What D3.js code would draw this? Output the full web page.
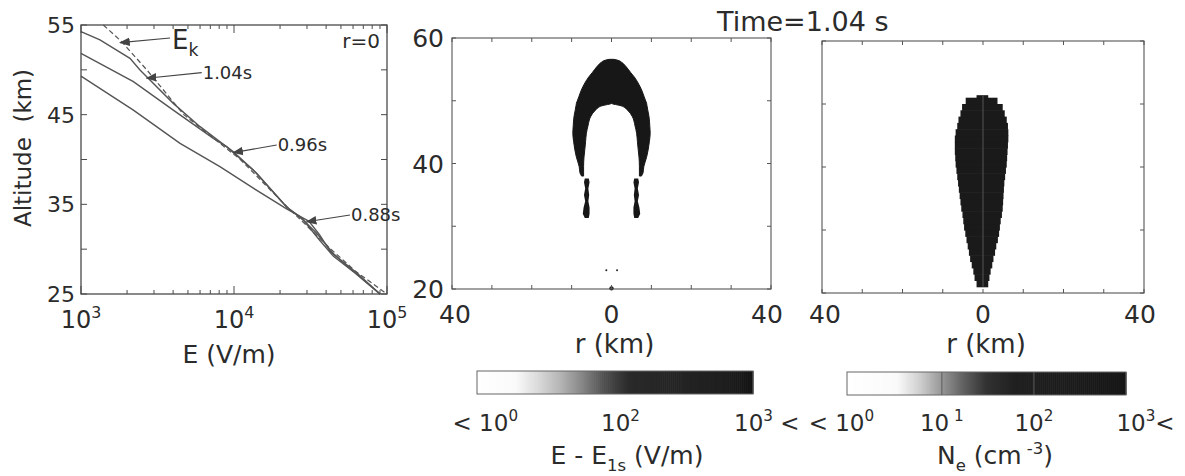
<!DOCTYPE html>
<html><head><meta charset="utf-8">
<script src="https://cdn.jsdelivr.net/npm/d3@7"></script>
<style>
body{margin:0;background:#fff}
svg{display:block}
text{font-family:"DejaVu Sans",sans-serif;fill:#2b2b2b;white-space:pre}
</style>
</head><body>
<svg id="c" width="1185" height="476"></svg>
<script>
// ---------------- data ----------------
const ekAlt = [55, 53.14, 50, 45, 40, 35, 30, 27.5, 25];
const ekE   = [1400, 1845, 2690, 4700, 11000, 21400, 43000, 62700, 100000];

const t104Alt = [54.26, 53.33, 51.28, 49.98, 49.05, 46.26, 43.66, 41.43, 38.83, 34.7, 33.6, 31.77, 29.5, 27.5, 25];
const t104E   = [1000, 1330, 2090, 2430, 2750, 4010, 6000, 8950, 13370, 22080, 27000, 34700, 44700, 60300, 90000];

const t096Alt = [51.84, 48.68, 45.5, 42.36, 41.43, 40.87, 38.46, 34.7, 33.25, 31.0, 29.2, 27.5, 25];
const t096E   = [1000, 2200, 4010, 7330, 8950, 9910, 14060, 22080, 28380, 36300, 44700, 60300, 90000];

const t088Alt = [49.3, 45.5, 41.8, 39.2, 36.8, 34.5, 33.1, 31.6, 29.7, 27.4, 25.0];
const t088E   = [1000, 2200, 4440, 8090, 13370, 22080, 30900, 36300, 42700, 63100, 90000];

const annLabel   = ["E", "1.04s", "0.96s", "0.88s"];
const annSub     = ["k", "", "", ""];
const annTipE    = [1800, 2685, 9890, 29850];
const annTipAlt  = [53.03, 49.06, 40.76, 33.06];
const annTailE   = [3820, 6150, 19010, 57300];
const annTailAlt = [53.55, 49.68, 41.62, 33.81];

const leftYTicks = [25, 30, 35, 40, 45, 50, 55];
const leftYLabels = [25, 35, 45, 55];
const leftXDecades = [1e3, 1e4, 1e5];
const leftXDecadeExp = ["3", "4", "5"];

const eAlt   = [56.6, 56.45, 56.1, 55.4, 54.5, 53.8, 52.2, 50.1, 49.6, 49.2, 48.5, 47.5, 46.0, 44.8, 43.5, 42.2, 41.0, 39.5, 38.5, 38.0];
const eOuter = [0.6, 1.6, 2.6, 3.7, 4.8, 5.7, 7.2, 8.5, 8.8, 8.9, 9.1, 9.4, 9.6, 9.7, 9.5, 9.2, 8.8, 8.1, 7.9, 7.5];
const eInner = [0, 0, 0, 0, 0, 0, 0, 0, 0, 2.4, 4.0, 5.2, 5.9, 6.3, 6.5, 6.7, 6.9, 7.0, 7.0, 7.0];
const colAlt = [37.6, 37.0, 36.0, 35.0, 34.0, 33.0, 32.0, 31.3];
const colIn  = [5.7, 5.5, 5.8, 5.6, 5.8, 5.5, 5.5, 5.7];
const colOut = [6.7, 6.9, 6.6, 6.9, 6.6, 7.0, 7.2, 6.7];
const eDotR   = [-1.3, 1.4, 0];
const eDotAlt = [23.0, 23.0, 20.1];
const eDotPx  = [1, 1, 2.2];

const neBottom = [21,22,23,24,25,26,27,28,29,30,31,32,33,34,35,36,37,38,39,40,41,42,43,44,45,46,47,48,49,50,51];
const neLeft   = [-1.6,-2.1,-2.4,-2.8,-3.2,-3.5,-3.8,-4.1,-4.4,-4.7,-4.9,-5.1,-5.4,-5.6,-5.8,-6.0,-6.2,-6.4,-6.6,-6.8,-6.9,-7.0,-7.0,-7.0,-6.8,-6.4,-6.1,-5.6,-5.2,-4.3,-1.6];
const neRight  = [1.3,1.6,1.9,2.3,2.6,3.0,3.3,3.7,4.0,4.2,4.4,4.7,4.9,5.0,5.1,5.2,5.3,5.5,5.7,5.9,6.0,6.1,6.2,6.3,6.3,6.2,5.9,5.4,4.9,3.6,1.3];
const neTop = 51.4;

const rTicks = [-40,-30,-20,-10,0,10,20,30,40];
const rLabels = [-40, 0, 40];
const altTicks = [20,30,40,50,60];
const altLabels = [20,40,60];

const cb1Pos  = [0, 0.14, 0.22, 0.30, 0.38, 0.46, 0.55, 0.9, 1];
const cb1Gray = [255, 250, 218, 182, 135, 80, 42, 30, 18];
const cb1Labels = [["< 10","0",""], ["10","2",""], ["10","3"," <"]];
const cb1LabelPos = [0.03, 0.52, 1.05];
const cb2Pos  = [0, 0.18, 0.26, 0.34, 0.42, 0.5, 0.6, 1];
const cb2Gray = [255, 250, 208, 150, 95, 50, 32, 22];
const cb2Labels = [["< 10","0",""], ["10"," 1",""], ["10","2",""], ["10","3","<"]];
const cb2LabelPos = [-0.02, 0.34, 0.67, 1.07];
const cb2TickPos = [0.34, 0.67];

// ---------------- drawing ----------------
const svg = d3.select("#c");
const ink = "#4a4a4a";

function rich(g, x, y, parts, size, anchor) {
  const t = g.append("text").attr("x", x).attr("y", y)
    .attr("font-size", size).attr("text-anchor", anchor || "start");
  let cur = 0;
  parts.forEach(([s, k]) => {
    if (!s) return;
    const off = k === "sup" ? -0.42 * size : k === "sub" ? 0.28 * size : 0;
    t.append("tspan").attr("dy", off - cur)
      .attr("font-size", k === "n" ? size : size * 0.66).text(s);
    cur = off;
  });
  return t;
}

// ===== Left panel =====
const lx = d3.scaleLog().domain([1e3, 1e5]).range([81, 387]);
const ly = d3.scaleLinear().domain([25, 55]).range([294, 25]);
const L = svg.append("g");

const line = d3.line().x(d => lx(d[0])).y(d => ly(d[1]));
const zip = (E, A) => E.map((e, i) => [e, A[i]]);

[[t104E, t104Alt], [t096E, t096Alt], [t088E, t088Alt]].forEach(([E, A]) => {
  L.append("path").attr("d", line(zip(E, A)))
    .attr("fill", "none").attr("stroke", "#555").attr("stroke-width", 1.4);
});
L.append("path").attr("d", line(zip(ekE, ekAlt)))
  .attr("fill", "none").attr("stroke", "#555").attr("stroke-width", 1.2)
  .attr("stroke-dasharray", "5,3");

L.append("rect").attr("x", lx(1e3)).attr("y", ly(55))
  .attr("width", lx(1e5) - lx(1e3)).attr("height", ly(25) - ly(55))
  .attr("fill", "none").attr("stroke", ink).attr("stroke-width", 1.3);

leftYTicks.forEach(v => {
  L.append("line").attr("x1", lx(1e3)).attr("x2", lx(1e3) + 6).attr("y1", ly(v)).attr("y2", ly(v)).attr("stroke", ink);
  L.append("line").attr("x1", lx(1e5)).attr("x2", lx(1e5) - 6).attr("y1", ly(v)).attr("y2", ly(v)).attr("stroke", ink);
});
leftYLabels.forEach(v => {
  L.append("text").attr("x", lx(1e3) - 6).attr("y", ly(v)).attr("dy", "0.36em")
    .attr("text-anchor", "end").attr("font-size", 22).text(v);
});
const minors = [];
[1e3, 1e4].forEach(d => { for (let k = 2; k <= 9; k++) minors.push(d * k); });
minors.forEach(v => {
  L.append("line").attr("x1", lx(v)).attr("x2", lx(v)).attr("y1", ly(25)).attr("y2", ly(25) - 4).attr("stroke", ink);
  L.append("line").attr("x1", lx(v)).attr("x2", lx(v)).attr("y1", ly(55)).attr("y2", ly(55) + 4).attr("stroke", ink);
});
leftXDecades.forEach((v, i) => {
  L.append("line").attr("x1", lx(v)).attr("x2", lx(v)).attr("y1", ly(25)).attr("y2", ly(25) - 8).attr("stroke", ink);
  L.append("line").attr("x1", lx(v)).attr("x2", lx(v)).attr("y1", ly(55)).attr("y2", ly(55) + 8).attr("stroke", ink);
  rich(L, lx(v), 328, [["10", "n"], [leftXDecadeExp[i], "sup"]], 24, "middle");
});
L.append("text").attr("x", 229).attr("y", 363).attr("text-anchor", "middle").attr("font-size", 25).text("E (V/m)");
L.append("text").attr("transform", "translate(31,148) rotate(-90)").attr("text-anchor", "middle")
  .attr("font-size", 23).text("Altitude  (km)");
L.append("text").attr("x", lx(1e5) - 7).attr("y", ly(55) + 23).attr("text-anchor", "end")
  .attr("font-size", 20).text("r=0");

const defs = svg.append("defs");
defs.append("marker").attr("id", "ah").attr("viewBox", "0 0 10 10").attr("refX", 9).attr("refY", 5)
  .attr("markerWidth", 9).attr("markerHeight", 9).attr("orient", "auto-start-reverse")
  .append("path").attr("d", "M0,1 L10,5 L0,9 Z").attr("fill", "#444");
annLabel.forEach((lab, i) => {
  const x1 = lx(annTailE[i]), y1 = ly(annTailAlt[i]);
  L.append("line").attr("x1", x1).attr("y1", y1)
    .attr("x2", lx(annTipE[i])).attr("y2", ly(annTipAlt[i]))
    .attr("stroke", "#444").attr("stroke-width", 1.2).attr("marker-end", "url(#ah)");
  if (i === 0) {
    rich(L, x1 + 2, y1 + 11, [[lab, "n"], [annSub[i], "sub"]], 26, "start");
  } else {
    L.append("text").attr("x", x1 + 1).attr("y", y1).attr("dy", "0.36em")
      .attr("font-size", 18).text(lab);
  }
});

// ===== Middle panel =====
const mx = d3.scaleLinear().domain([-40, 40]).range([452, 771]);
const my = d3.scaleLinear().domain([20, 60]).range([289, 38]);
const M = svg.append("g");
const fillDark = "#171717";
const eRows = eAlt.map((a, i) => ({ a, o: eOuter[i], n: eInner[i] }));
const areaL = d3.area().curve(d3.curveMonotoneY).y(d => my(d.a)).x0(d => mx(-d.o)).x1(d => mx(-d.n));
const areaR = d3.area().curve(d3.curveMonotoneY).y(d => my(d.a)).x0(d => mx(d.n)).x1(d => mx(d.o));
[areaL, areaR].forEach(ar => {
  M.append("path").attr("d", ar(eRows)).attr("fill", fillDark).attr("stroke", fillDark).attr("stroke-width", 1);
});
const cRows = colAlt.map((a, i) => ({ a, o: colOut[i], n: colIn[i] }));
[areaL, areaR].forEach(ar => {
  M.append("path").attr("d", ar.curve(d3.curveLinear)(cRows)).attr("fill", fillDark);
});
eDotR.forEach((r, i) => {
  M.append("circle").attr("cx", mx(r)).attr("cy", my(eDotAlt[i])).attr("r", eDotPx[i]).attr("fill", "#222");
});

function panelFrame(g, xs, ys, showY) {
  g.append("rect").attr("x", xs(-40)).attr("y", ys(60)).attr("width", xs(40) - xs(-40)).attr("height", ys(20) - ys(60))
    .attr("fill", "none").attr("stroke", "#555").attr("stroke-width", 1.1);
  rTicks.forEach(v => {
    g.append("line").attr("x1", xs(v)).attr("x2", xs(v)).attr("y1", ys(20)).attr("y2", ys(20) - 4).attr("stroke", "#555");
    g.append("line").attr("x1", xs(v)).attr("x2", xs(v)).attr("y1", ys(60)).attr("y2", ys(60) + 4).attr("stroke", "#555");
  });
  altTicks.forEach(v => {
    g.append("line").attr("x1", xs(-40)).attr("x2", xs(-40) + 4).attr("y1", ys(v)).attr("y2", ys(v)).attr("stroke", "#555");
    g.append("line").attr("x1", xs(40)).attr("x2", xs(40) - 4).attr("y1", ys(v)).attr("y2", ys(v)).attr("stroke", "#555");
  });
  rLabels.forEach(v => {
    g.append("text").attr("x", xs(v) + (v < 0 ? 3 : v > 0 ? -4 : 0)).attr("y", 323).attr("text-anchor", "middle")
      .attr("font-size", 25).text(Math.abs(v));
  });
  g.append("text").attr("x", (xs(-40) + xs(40)) / 2 + 3).attr("y", 353).attr("text-anchor", "middle")
    .attr("font-size", 26).text("r (km)");
  if (showY) {
    altLabels.forEach(v => {
      g.append("text").attr("x", xs(-40) - 8).attr("y", ys(v)).attr("dy", "0.36em").attr("text-anchor", "end")
        .attr("font-size", 25).text(v);
    });
  }
}
panelFrame(M, mx, my, true);

// ===== Right panel =====
const rx = d3.scaleLinear().domain([-40, 40]).range([822, 1144]);
const ry = d3.scaleLinear().domain([20, 60]).range([293, 41]);
const R = svg.append("g");
neBottom.forEach((b, i) => {
  const top = i < neBottom.length - 1 ? neBottom[i + 1] : neTop;
  R.append("rect").attr("x", rx(neLeft[i])).attr("y", ry(top))
    .attr("width", rx(neRight[i]) - rx(neLeft[i])).attr("height", ry(b) - ry(top) + 0.6)
    .attr("fill", "#1a1a1a");
});
R.append("line").attr("x1", rx(0)).attr("x2", rx(0)).attr("y1", ry(neTop)).attr("y2", ry(neBottom[0]))
  .attr("stroke", "#555").attr("stroke-width", 1);
panelFrame(R, rx, ry, false);

svg.append("text").attr("x", 717).attr("y", 31).attr("font-size", 27).text("Time=1.04 s");

// ===== Colour bars =====
function colorbar(x0, x1, y0, y1, pos, gray, labels, lpos, ticks, titleParts, titleX) {
  const g = svg.append("g");
  const s = d3.scaleLinear().domain([0, 1]).range([x0, x1]);
  const c = d3.scaleLinear().domain(pos).range(gray);
  const n = 140;
  d3.range(n).forEach(k => {
    const f = (k + 0.5) / n, v = Math.round(c(f));
    g.append("rect").attr("x", s(k / n)).attr("y", y0).attr("width", (x1 - x0) / n + 0.6).attr("height", y1 - y0)
      .attr("fill", `rgb(${v},${v},${v})`);
  });
  (ticks || []).forEach(t => {
    g.append("line").attr("x1", s(t)).attr("x2", s(t)).attr("y1", y0).attr("y2", y1).attr("stroke", "#5c5c5c").attr("stroke-width", 1);
  });
  g.append("rect").attr("x", x0).attr("y", y0).attr("width", x1 - x0).attr("height", y1 - y0)
    .attr("fill", "none").attr("stroke", "#666").attr("stroke-width", 1);
  labels.forEach((lb, i) => {
    rich(g, s(lpos[i]), 431, [[lb[0], "n"], [lb[1], "sup"], [lb[2], "n"]], 23, "middle");
  });
  rich(g, titleX, 464, titleParts, 25, "middle");
}
colorbar(477, 753, 371, 394, cb1Pos, cb1Gray, cb1Labels, cb1LabelPos, [],
  [["E - E", "n"], ["1s", "sub"], [" (V/m)", "n"]], 627);
colorbar(847, 1126, 372, 395, cb2Pos, cb2Gray, cb2Labels, cb2LabelPos, cb2TickPos,
  [["N", "n"], ["e", "sub"], [" (cm", "n"], [" -3", "sup"], [")", "n"]], 995);
</script>
</body></html>
